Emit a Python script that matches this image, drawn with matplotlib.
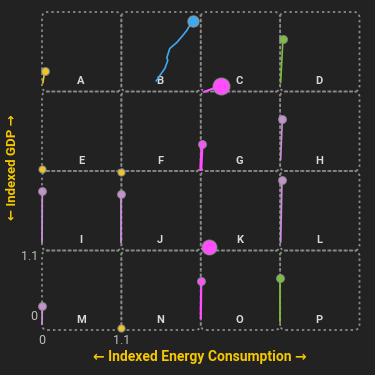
import matplotlib
matplotlib.use("Agg")
import matplotlib.pyplot as plt
from matplotlib.patches import FancyBboxPatch
from matplotlib.transforms import ScaledTranslation

plt.rcParams['font.family'] = ['Roboto', 'DejaVu Sans']

letters = list("ABCDEFGHIJKLMNOP")
colors = ['#f2c61f', '#3ea8f0', '#ff4dff', '#7bbf3a',
          '#f2c61f', '#f2c61f', '#ff4dff', '#c88fd6',
          '#c88fd6', '#c88fd6', '#ff4dff', '#c88fd6',
          '#c88fd6', '#f2c61f', '#ff4dff', '#7bbf3a']
xs = [
    [0.01, 0.04],
    [0.477, 0.533, 0.602, 0.643, 0.63, 0.671, 0.768, 0.851, 0.906, 0.947, 0.989],
    [0.032, 0.286],
    [0.007, 0.039],
    [-0.004],
    [-0.01],
    [0.0, 0.018],
    [0.007, 0.03],
    [0.0, 0.004],
    [-0.007, -0.007],
    [0.11],
    [0.007, 0.025],
    [0.0, 0.004],
    [-0.007],
    [0.0, 0.007],
    [0.0, 0.0],
]
ys = [
    [0.11, 0.29],
    [0.138, 0.221, 0.318, 0.429, 0.47, 0.595, 0.678, 0.775, 0.844, 0.913, 0.982],
    [-0.01, 0.083],
    [0.115, 0.729],
    [0.024],
    [-0.02],
    [0.0, 0.378],
    [0.148, 0.715],
    [0.106, 0.82],
    [0.106, 0.775],
    [0.055],
    [0.106, 0.982],
    [0.069, 0.332],
    [0.024],
    [0.152, 0.682],
    [0.106, 0.715],
]
end_size = [5.5, 8, 12, 5.5, 5, 5, 5.5, 5.5, 5.5, 5.5, 10.5, 5.5, 5.5, 5, 5.5, 5.5]
line_w = [1.2, 1.2, 1.5, 1.2, 1.2, 1.2, 2.2, 1.2, 1.3, 1.3, 1.2, 1.3, 1.3, 1.2, 1.6, 1.3]
tick_vals = [0, 1.1]
tick_labels = ['0', '1.1']

bg = '#222222'
fig = plt.figure(figsize=(3.75, 3.75), dpi=100, facecolor=bg)
L0, R0, T0, B0 = 42/375, 359.5/375, 1-12/375, 1-330/375
gs = fig.add_gridspec(4, 4, left=L0, right=R0, top=T0, bottom=B0, wspace=0, hspace=0)

# background axes for the dashed cell frames
bgax = fig.add_axes([L0, B0, R0-L0, T0-B0], zorder=0)
bgax.set_xlim(0, 4)
bgax.set_ylim(0, 4)
bgax.axis('off')
for i in range(16):
    r, c = divmod(i, 4)
    box = FancyBboxPatch((c, 3 - r), 1.0, 1.0,
                         boxstyle="round,pad=0,rounding_size=0.07",
                         fill=False, edgecolor='#8a8a8a', linewidth=1.3,
                         linestyle=(0, (1.3, 1.7)), clip_on=False)
    bgax.add_patch(box)

for i, L in enumerate(letters):
    r, c = divmod(i, 4)
    ax = fig.add_subplot(gs[r, c])
    ax.set_zorder(1)
    ax.set_facecolor('none')
    ax.set_xlim(0, 1.1)
    ax.set_ylim(0, 1.1)
    for s in ax.spines.values():
        s.set_visible(False)
    ax.text(0.49, 0.13, L, transform=ax.transAxes, ha='center', va='center',
            color='#d8d8d8', fontsize=8, fontweight='bold', zorder=2)
    x, y = xs[i], ys[i]
    if len(x) > 1:
        ax.plot(x, y, color=colors[i], lw=line_w[i], clip_on=False, zorder=3,
                solid_capstyle='butt')
    ax.plot([x[-1]], [y[-1]], 'o', ms=end_size[i], color=colors[i],
            markeredgecolor=(0.6, 0.6, 0.6, 0.7), markeredgewidth=1.0,
            clip_on=False, zorder=4)
    if L == 'M':
        ax.set_xticks(tick_vals)
        ax.set_xticklabels(tick_labels)
        ax.set_yticks(tick_vals)
        ax.set_yticklabels(tick_labels)
        ax.tick_params(length=0, colors='#bdbdbd', labelsize=9, pad=3)
        yl = ax.get_yticklabels()
        yl[0].set_transform(yl[0].get_transform() + ScaledTranslation(0, 15/100, fig.dpi_scale_trans))
        yl[1].set_transform(yl[1].get_transform() + ScaledTranslation(0, -5/100, fig.dpi_scale_trans))
    else:
        ax.set_xticks([])
        ax.set_yticks([])

fig.text(200/375, 1-357/375, '← Indexed Energy Consumption →', ha='center', va='center',
         color='#f5c800', fontsize=10, fontweight='bold')
fig.text(13/375, 1-167/375, '← Indexed GDP →', ha='center', va='center', rotation=90,
         color='#f5c800', fontsize=9.5, fontweight='bold')

fig.savefig('out.png', dpi=100, facecolor=bg)
